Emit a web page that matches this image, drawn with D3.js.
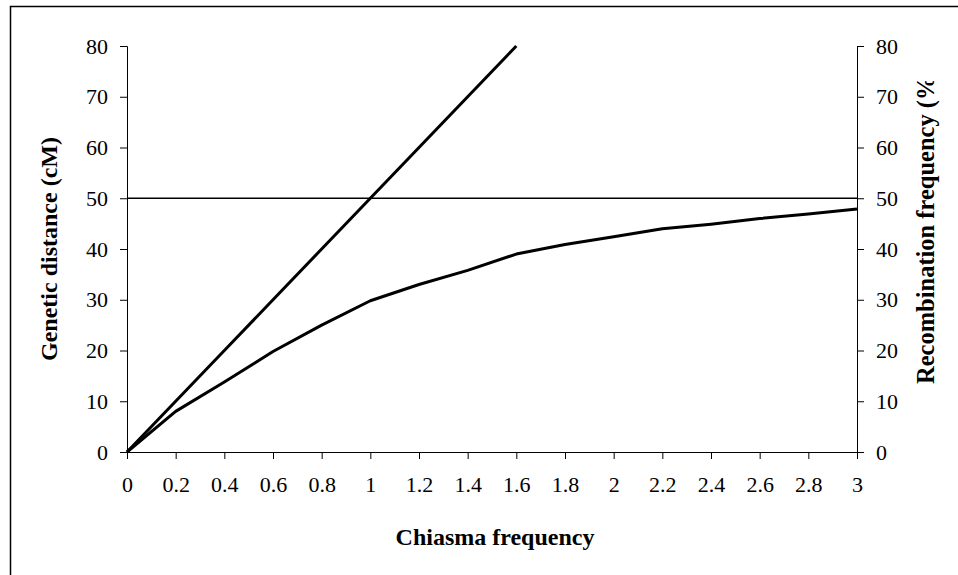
<!DOCTYPE html>
<html>
<head>
<meta charset="utf-8">
<script src="https://cdn.jsdelivr.net/npm/d3@7"></script>
<style>
  body { margin: 0; background: #fff; }
  text { font-family: "Liberation Serif", "Times New Roman", serif; }
</style>
</head>
<body>
<script>
// chart data
const chiasma = ['0', '0.2', '0.4', '0.6', '0.8', '1', '1.2', '1.4', '1.6', '1.8', '2', '2.2', '2.4', '2.6', '2.8', '3'];
const geneticDistance = [0, 10, 20, 30, 40, 50, 60, 70, 80];
const recombination = [0, 8, 13.8, 19.8, 25, 29.8, 33, 35.8, 39, 40.9, 42.4, 44, 44.9, 46, 46.9, 47.9];
const refLine = 50;
const yTicks = [0, 10, 20, 30, 40, 50, 60, 70, 80];

let width = 958, height = 575;
let padL = 127, padR = 857, padT = 46, padB = 452;

let svg = d3.select('body')
    .append('svg')
    .attr('width', width)
    .attr('height', height)

// outer frame
svg.append('rect')
    .attr('x', 10.5)
    .attr('y', 6.5)
    .attr('width', 1000)
    .attr('height', 1000)
    .attr('fill', 'none')
    .attr('stroke', '#000')
    .attr('stroke-width', 1.5)

let xScale = d3.scalePoint()
    .domain(chiasma)
    .range([padL, padR])

let yScale = d3.scaleLinear()
    .domain([0, 80])
    .range([padB, padT])

// axes
let xAxis = d3.axisBottom(xScale).tickSizeOuter(0).tickSize(7).tickPadding(17)
let yLeft = d3.axisLeft(yScale).tickValues(yTicks).tickSizeOuter(0).tickSize(7).tickPadding(12)
let yRight = d3.axisRight(yScale).tickValues(yTicks).tickSizeOuter(0).tickSize(7).tickPadding(12)

let styleAxis = g => {
    g.select('.domain').attr('stroke', '#000').attr('stroke-width', 1)
    g.selectAll('.tick line').attr('stroke', '#000')
    g.selectAll('.tick text').attr('font-size', 22).attr('fill', '#000')
        .style('font-family', '"Liberation Serif", serif')
}

svg.append('g')
    .attr('transform', `translate(0,${padB})`)
    .call(xAxis)
    .call(styleAxis)

svg.append('g')
    .attr('transform', `translate(${padL},0)`)
    .call(yLeft)
    .call(styleAxis)

svg.append('g')
    .attr('transform', `translate(${padR},0)`)
    .call(yRight)
    .call(styleAxis)

// 50% reference line
svg.append('line')
    .attr('x1', padL)
    .attr('x2', padR)
    .attr('y1', yScale(refLine))
    .attr('y2', yScale(refLine))
    .attr('stroke', '#000')
    .attr('stroke-width', 1.5)

let line = d3.line()
    .x((d, i) => xScale(chiasma[i]))
    .y(d => yScale(d))

svg.append('path')
    .datum(geneticDistance)
    .attr('d', line)
    .attr('fill', 'none')
    .attr('stroke', '#000')
    .attr('stroke-width', 3)

svg.append('path')
    .datum(recombination)
    .attr('d', line)
    .attr('fill', 'none')
    .attr('stroke', '#000')
    .attr('stroke-width', 3)
    .attr('stroke-linejoin', 'round')

// titles
svg.append('text')
    .attr('x', (padL + padR) / 2 + 3)
    .attr('y', 545)
    .attr('text-anchor', 'middle')
    .attr('font-size', 24)
    .attr('font-weight', 'bold')
    .text('Chiasma frequency')

svg.append('text')
    .attr('transform', `translate(57,${(padT + padB) / 2}) rotate(-90)`)
    .attr('text-anchor', 'middle')
    .attr('font-size', 24)
    .attr('font-weight', 'bold')
    .text('Genetic distance (cM)')

// right title is cut off at the top like in the original
svg.append('clipPath')
    .attr('id', 'rclip')
    .append('rect')
    .attr('x', 880).attr('y', 81).attr('width', 78).attr('height', 400)

svg.append('g')
    .attr('clip-path', 'url(#rclip)')
    .append('text')
    .attr('transform', `translate(934,384) rotate(-90)`)
    .attr('text-anchor', 'start')
    .attr('font-size', 24.5)
    .attr('font-weight', 'bold')
    .text('Recombination frequency (%)')
</script>
</body>
</html>
